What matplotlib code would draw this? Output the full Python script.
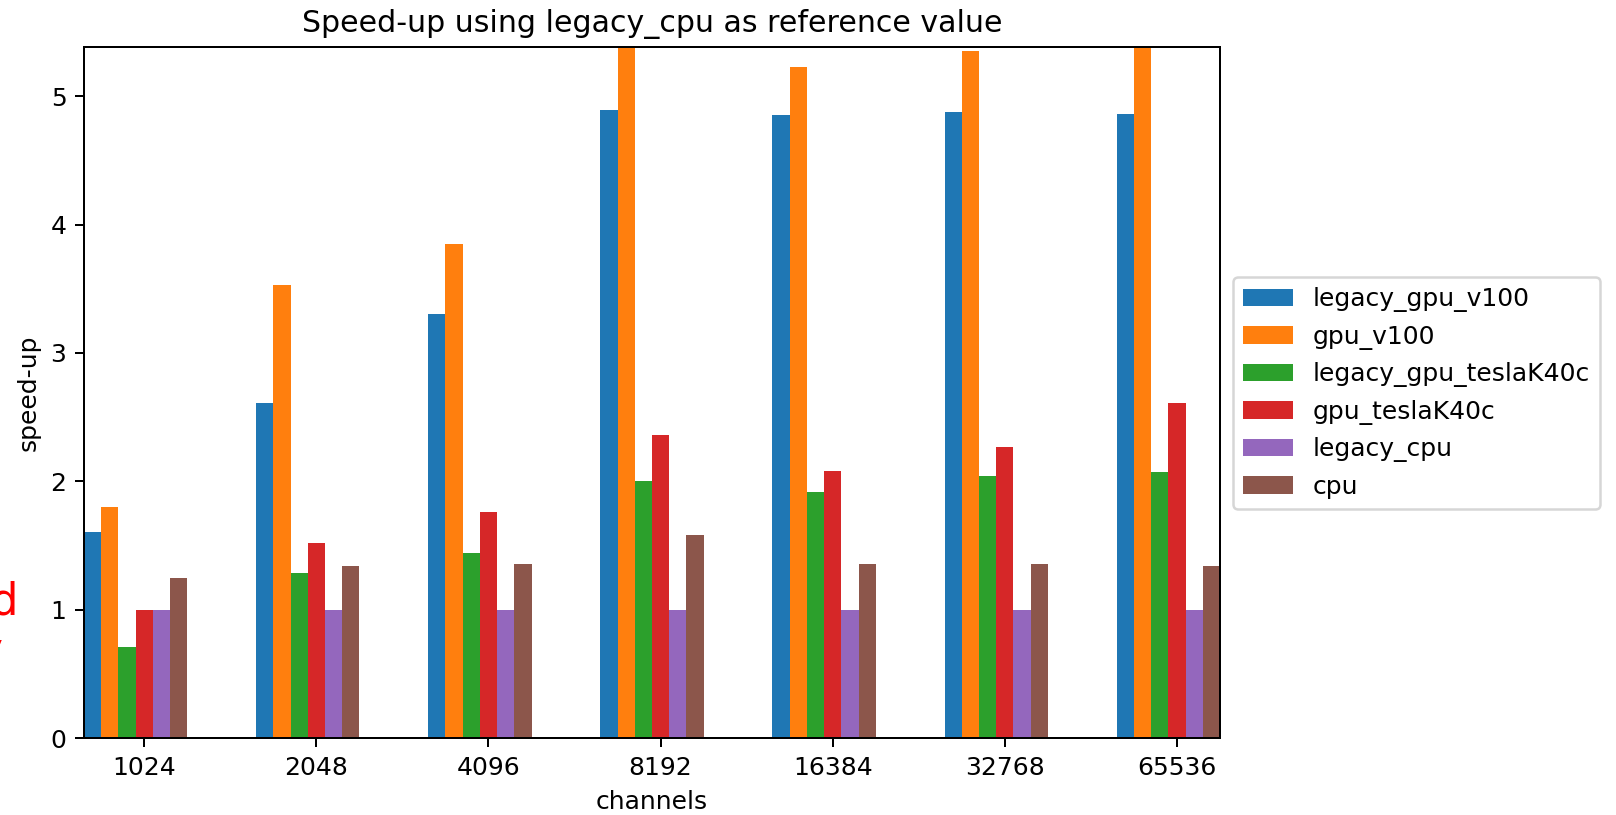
import numpy as np
import matplotlib
matplotlib.use("Agg")
import matplotlib.pyplot as plt

# speed-up per number of channels, legacy_cpu = 1
channels = ["1024", "2048", "4096", "8192", "16384", "32768", "65536"]
legacy_gpu_v100 = [1.61, 2.61, 3.30, 4.89, 4.85, 4.88, 4.86]
gpu_v100 = [1.80, 3.53, 3.85, 5.45, 5.23, 5.35, 5.45]
legacy_gpu_teslaK40c = [0.71, 1.29, 1.44, 2.00, 1.92, 2.04, 2.07]
gpu_teslaK40c = [1.00, 1.52, 1.76, 2.36, 2.08, 2.27, 2.61]
legacy_cpu = [1.0, 1.0, 1.0, 1.0, 1.0, 1.0, 1.0]
cpu = [1.25, 1.34, 1.36, 1.58, 1.36, 1.36, 1.34]

series = [
    ("legacy_gpu_v100", legacy_gpu_v100),
    ("gpu_v100", gpu_v100),
    ("legacy_gpu_teslaK40c", legacy_gpu_teslaK40c),
    ("gpu_teslaK40c", gpu_teslaK40c),
    ("legacy_cpu", legacy_cpu),
    ("cpu", cpu),
]

W, H, DPI = 1616, 815, 180
fig = plt.figure(figsize=(W / DPI, H / DPI), dpi=DPI)
ax = fig.add_axes([84 / W, 1 - 738.3 / H, (1220 - 84) / W, (738.3 - 47.3) / H])

x = np.arange(len(channels))
width = 0.1
for i, (name, vals) in enumerate(series):
    ax.bar(x + (i - 3) * width, vals, width, label=name)

ax.set_xticks(x)
ax.set_xticklabels(channels)
ax.set_xlim(-3.5 * width, len(channels) - 1 + 2.5 * width)
ax.set_ylim(0, 5.38)
ax.set_xlabel("channels")
ax.set_ylabel("speed-up")
ax.set_title("Speed-up using legacy_cpu as reference value")
ax.legend(loc="center left", bbox_to_anchor=(1, 0.5))

# note sitting off the left edge
fig.text(18 / W, 1 - 615 / H, "speed-up normalised", color="red", fontsize=17.5,
         ha="right", va="baseline")
fig.text(3 / W, 1 - 664 / H, "by legacy", color="red", fontsize=17.5,
         ha="right", va="baseline")

fig.savefig("out.png", dpi=DPI)
